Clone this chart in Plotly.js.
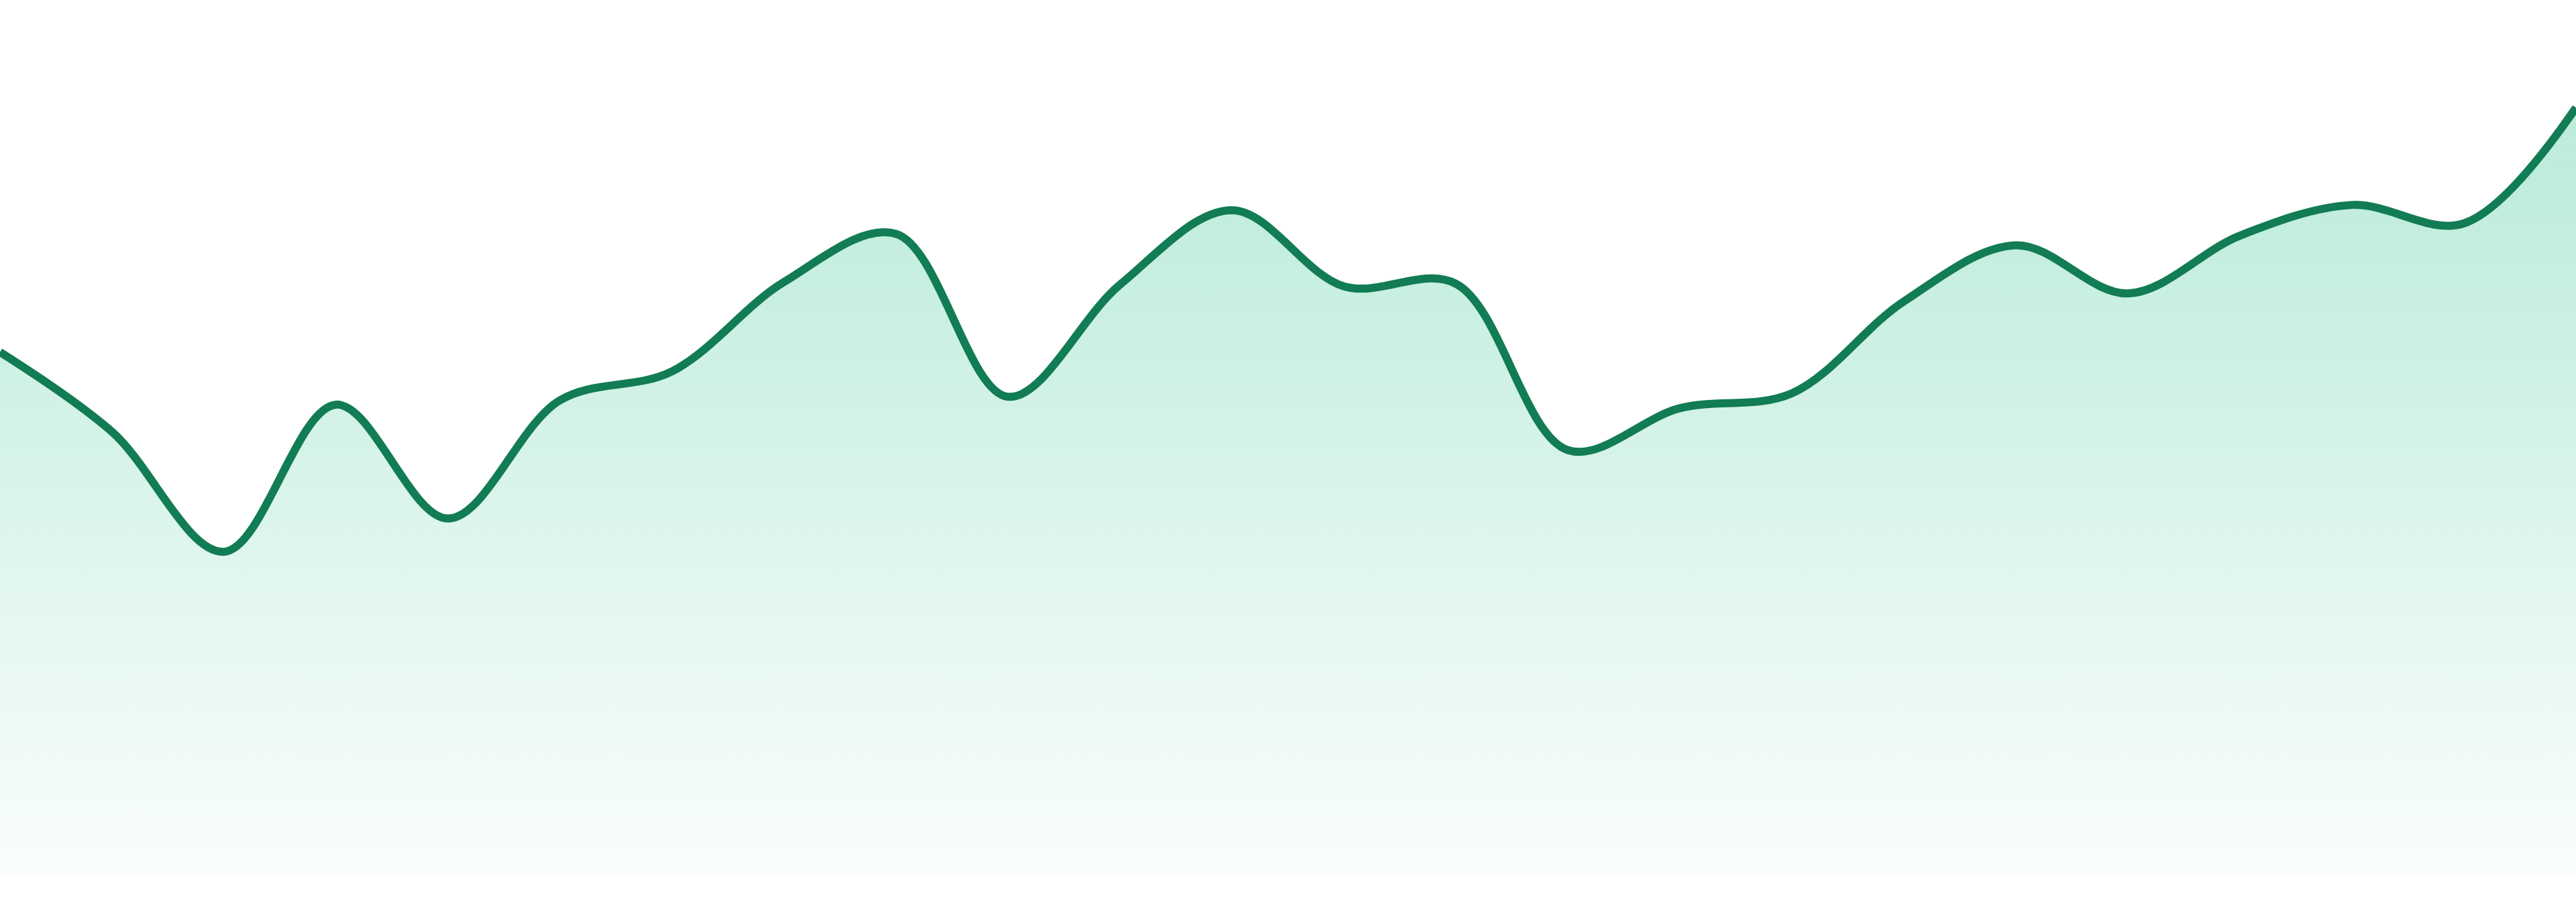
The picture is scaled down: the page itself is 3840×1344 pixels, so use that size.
<!DOCTYPE html>
<html>
<head>
<meta charset="utf-8">
<script src="https://cdn.plot.ly/plotly-3.0.1.min.js"></script>
<style>
  html, body { margin: 0; padding: 0; background: #ffffff; }
  #areaPlot { width: 3840px; height: 1344px; }
</style>
</head>
<body>
<div id="areaPlot"></div>
<script>
// one point per step
var steps = [0, 1, 2, 3, 4, 5, 6, 7, 8, 9, 10, 11, 12, 13, 14, 15, 16, 17, 18, 19, 20, 21, 22, 23];

var values = [59.8, 50.7, 37.0, 53.8, 40.8, 54.3, 57.6, 67.8, 73.3, 54.7, 67.5, 76.0,
              67.3, 67.6, 48.6, 53.4, 55.1, 65.6, 72.0, 66.5, 73.1, 76.6, 74.5, 87.7];

var lineColor = '#127c54';

var area = {
    x: steps,
    y: values,
    type: 'scatter',
    mode: 'lines',
    line: { color: lineColor, width: 12, shape: 'spline', smoothing: 1 },
    fill: 'tozeroy',
    fillgradient: {
        type: 'vertical',
        start: 0,
        stop: 80,
        colorscale: [
            [0, 'rgba(16,185,129,0.02)'],
            [1, 'rgba(16,185,129,0.27)']
        ]
    },
    hoverinfo: 'skip'
};

var layout = {
    width: 3840,
    height: 1344,
    margin: { l: 0, r: 0, t: 0, b: 39 },
    paper_bgcolor: '#ffffff',
    plot_bgcolor: '#ffffff',
    showlegend: false,
    xaxis: { range: [0, 23], visible: false, fixedrange: true },
    yaxis: { range: [0, 100], visible: false, fixedrange: true }
};

Plotly.newPlot('areaPlot', [area], layout, { displayModeBar: false, staticPlot: true });
</script>
</body>
</html>
